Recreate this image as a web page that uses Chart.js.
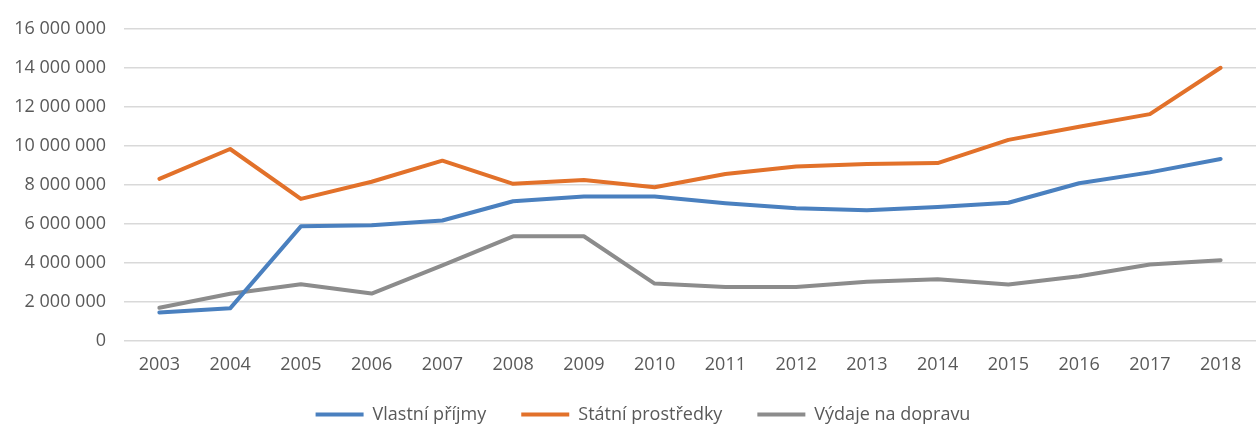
<!DOCTYPE html>
<html>
<head>
<meta charset="utf-8">
<script src="https://cdn.jsdelivr.net/npm/chart.js@4"></script>
<style>
  html, body { margin: 0; padding: 0; background: #ffffff; }
  #wrap { width: 1256px; height: 425px; }
</style>
</head>
<body>
<div id="wrap"><canvas id="c" width="1256" height="425"></canvas></div>
<script>
const years = ['2003','2004','2005','2006','2007','2008','2009','2010','2011','2012','2013','2014','2015','2016','2017','2018'];
const vlastniPrijmy = [1440000,1650000,5860000,5910000,6160000,7150000,7390000,7390000,7050000,6790000,6680000,6850000,7070000,8070000,8630000,9320000];
const statniProstredky = [8300000,9830000,7270000,8150000,9230000,8040000,8240000,7870000,8550000,8930000,9060000,9110000,10300000,10970000,11620000,14000000];
const vydajeNaDopravu = [1680000,2400000,2890000,2410000,3860000,5350000,5350000,2920000,2750000,2750000,3010000,3150000,2870000,3300000,3900000,4120000];
const yTickValues = [0,2000000,4000000,6000000,8000000,10000000,12000000,14000000,16000000];
const yTickLabels = ['0','2 000 000','4 000 000','6 000 000','8 000 000','10 000 000','12 000 000','14 000 000','16 000 000'];
const seriesNames = ['Vlastní příjmy','Státní prostředky','Výdaje na dopravu'];

const FONT = '"Open Sans", "DejaVu Sans", sans-serif';
const TEXT = '#595959';

function ds(label, data, color) {
  return {
    label, data,
    borderColor: color, backgroundColor: color,
    borderWidth: 4, tension: 0, pointRadius: 0, pointHoverRadius: 0,
    borderJoinStyle: 'round', borderCapStyle: 'round', fill: false,
    pointStyle: 'line'
  };
}

// Fix the legend box height (its wide item padding would otherwise eat vertical space)
// and nudge the legend a little to the right, as in the reference.
const legendTweakPlugin = {
  id: 'legendTweak',
  beforeLayout(chart) {
    const lg = chart.legend;
    if (lg && !lg._patched) {
      const origFit = lg.fit;
      lg.fit = function () { origFit.call(this); this.height = 54.5; };
      const origDraw = lg._draw;
      lg._draw = function () {
        this.ctx.save();
        this.ctx.translate(12, 0);
        origDraw.call(this);
        this.ctx.restore();
      };
      lg._patched = true;
    }
  }
};

new Chart(document.getElementById('c'), {
  type: 'line',
  data: {
    labels: years,
    datasets: [
      ds(seriesNames[0], vlastniPrijmy, '#4a80bf'),
      ds(seriesNames[1], statniProstredky, '#e2712a'),
      ds(seriesNames[2], vydajeNaDopravu, '#8c8c8c')
    ]
  },
  plugins: [legendTweakPlugin],
  options: {
    responsive: false,
    animation: false,
    devicePixelRatio: 1,
    layout: { padding: { top: 27, left: 0, right: -6, bottom: 0 } },
    plugins: {
      legend: {
        position: 'bottom',
        align: 'center',
        labels: {
          usePointStyle: true,
          pointStyleWidth: 48,
          boxHeight: 4,
          padding: 35,
          color: TEXT,
          font: { family: FONT, size: 18 }
        }
      },
      tooltip: { enabled: false },
      title: { display: false }
    },
    scales: {
      x: {
        offset: true,
        grid: { display: false, drawTicks: false },
        border: { display: false },
        ticks: { color: TEXT, font: { family: FONT, size: 18 }, padding: 13.7, maxRotation: 0, autoSkip: false },
        afterFit(s) { s.height = 30; }
      },
      y: {
        min: 0, max: 16000000,
        grid: { color: '#d9d9d9', lineWidth: 1.5, drawTicks: false },
        border: { display: false },
        afterBuildTicks(s) { s.ticks = yTickValues.map(v => ({ value: v })); },
        ticks: {
          color: TEXT, font: { family: FONT, size: 18 }, padding: 18,
          callback(value) { const i = yTickValues.indexOf(value); return i >= 0 ? yTickLabels[i] : ''; }
        },
        afterFit(s) { s.width = 124; }
      }
    }
  }
});
</script>
</body>
</html>
